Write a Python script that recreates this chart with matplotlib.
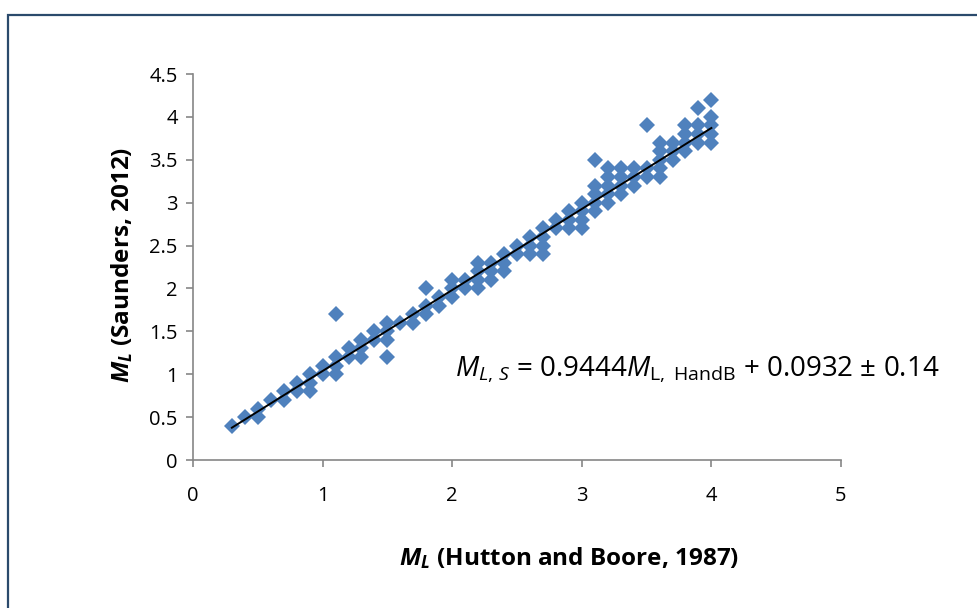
import numpy as np
import matplotlib
matplotlib.use("Agg")
import matplotlib.pyplot as plt
from matplotlib.patches import Rectangle
from matplotlib.ticker import FuncFormatter

### Data (0.1 grid)

ml_hb = [0.3, 0.4, 0.5, 0.5, 0.6, 0.7, 0.7, 0.8, 0.8, 0.9, 0.9, 0.9,
         1.0, 1.0, 1.1, 1.1, 1.1, 1.1, 1.2, 1.2, 1.3, 1.3, 1.3, 1.4, 1.4,
         1.5, 1.5, 1.5, 1.5, 1.6, 1.7, 1.7, 1.8, 1.8, 1.8, 1.9, 1.9,
         2.0, 2.0, 2.0, 2.1, 2.1, 2.2, 2.2, 2.2, 2.2, 2.3, 2.3, 2.3,
         2.4, 2.4, 2.4, 2.5, 2.5, 2.6, 2.6, 2.6, 2.7, 2.7, 2.7, 2.7,
         2.8, 2.8, 2.9, 2.9, 2.9, 3.0, 3.0, 3.0, 3.0,
         3.1, 3.1, 3.1, 3.1, 3.1, 3.2, 3.2, 3.2, 3.2, 3.2,
         3.3, 3.3, 3.3, 3.3, 3.4, 3.4, 3.4, 3.5, 3.5, 3.5,
         3.6, 3.6, 3.6, 3.6, 3.6, 3.7, 3.7, 3.7, 3.8, 3.8, 3.8, 3.8,
         3.9, 3.9, 3.9, 3.9, 4.0, 4.0, 4.0, 4.0, 4.0]
ml_saunders = [0.4, 0.5, 0.6, 0.5, 0.7, 0.8, 0.7, 0.9, 0.8, 1.0, 0.9, 0.8,
               1.1, 1.0, 1.7, 1.2, 1.1, 1.0, 1.3, 1.2, 1.4, 1.3, 1.2, 1.5, 1.4,
               1.6, 1.5, 1.4, 1.2, 1.6, 1.7, 1.6, 2.0, 1.8, 1.7, 1.9, 1.8,
               2.1, 2.0, 1.9, 2.1, 2.0, 2.3, 2.2, 2.1, 2.0, 2.3, 2.2, 2.1,
               2.4, 2.3, 2.2, 2.5, 2.4, 2.6, 2.5, 2.4, 2.7, 2.6, 2.5, 2.4,
               2.8, 2.7, 2.9, 2.8, 2.7, 3.0, 2.9, 2.8, 2.7,
               3.5, 3.2, 3.1, 3.0, 2.9, 3.4, 3.3, 3.2, 3.1, 3.0,
               3.4, 3.3, 3.2, 3.1, 3.4, 3.3, 3.2, 3.9, 3.4, 3.3,
               3.7, 3.6, 3.5, 3.4, 3.3, 3.7, 3.6, 3.5, 3.9, 3.8, 3.7, 3.6,
               4.1, 3.9, 3.8, 3.7, 4.2, 4.0, 3.9, 3.8, 3.7]

slope = 0.9444
intercept = 0.0932
fit_range = [0.3, 4.0]
x_ticks = [0, 1, 2, 3, 4, 5]
y_ticks = [0, 0.5, 1, 1.5, 2, 2.5, 3, 3.5, 4, 4.5]

### Style

plt.rcParams['font.family'] = ['Open Sans', 'DejaVu Sans']
plt.rcParams['mathtext.fontset'] = 'custom'
plt.rcParams['mathtext.rm'] = 'Open Sans'
plt.rcParams['mathtext.it'] = 'Open Sans:italic'
plt.rcParams['mathtext.bf'] = 'Open Sans:bold'
plt.rcParams['mathtext.bfit'] = 'Open Sans:bold:italic'

grey = '#868686'
blue = '#4F81BD'

fig = plt.figure(figsize=(9.77, 6.08), dpi=100)
ax = fig.add_axes([193/977, 1 - 460/608, (841 - 193)/977, (460 - 74)/608])

ax.plot(ml_hb, ml_saunders, linestyle='none', marker='D', markersize=8.5,
        color=blue, markeredgewidth=0, zorder=3)

fx = np.array(fit_range)
ax.plot(fx, slope*fx + intercept, color='black', lw=1.4, zorder=4)

ax.set_xlim(x_ticks[0], x_ticks[-1])
ax.set_ylim(y_ticks[0], y_ticks[-1])
ax.set_xticks(x_ticks)
ax.set_yticks(y_ticks)
fmt = FuncFormatter(lambda v, p: '%g' % v)
ax.xaxis.set_major_formatter(fmt)
ax.yaxis.set_major_formatter(fmt)

for s in ['top', 'right']:
    ax.spines[s].set_visible(False)
for s in ['left', 'bottom']:
    ax.spines[s].set_color(grey)
    ax.spines[s].set_linewidth(1.2)
ax.tick_params(axis='both', direction='out', length=5, width=1.2, color=grey,
               labelsize=14.5, labelcolor='black')
ax.tick_params(axis='x', pad=14)
ax.tick_params(axis='y', pad=6)

fig.text(122/977, 1 - 265/608, r'$\mathbfit{M}_{\mathbfit{L}}$ (Saunders, 2012)',
         rotation=90, ha='center', va='center', fontsize=17.5, fontweight='bold')
fig.text(569/977, 1 - 558/608, r'$\mathbfit{M}_{\mathbfit{L}}$ (Hutton and Boore, 1987)',
         ha='center', va='center', fontsize=17.5, fontweight='bold')

eq = (r'$M_{L,\,S}$ = %.4f$M_{\mathrm{L,\ HandB}}$ + %.4f ± 0.14'
      % (slope, intercept))
ax.text(455/977, 1 - 369/608, eq, transform=fig.transFigure,
        ha='left', va='center', fontsize=20)

# outer chart frame (cut off at right and bottom like the original)
fig.patches.append(Rectangle((8/977, -0.1), 1.2, 1 - 15/608 + 0.1,
                             transform=fig.transFigure, fill=False,
                             edgecolor='#2B4A6C', lw=1.6))

plt.savefig('out.png', dpi=100)
